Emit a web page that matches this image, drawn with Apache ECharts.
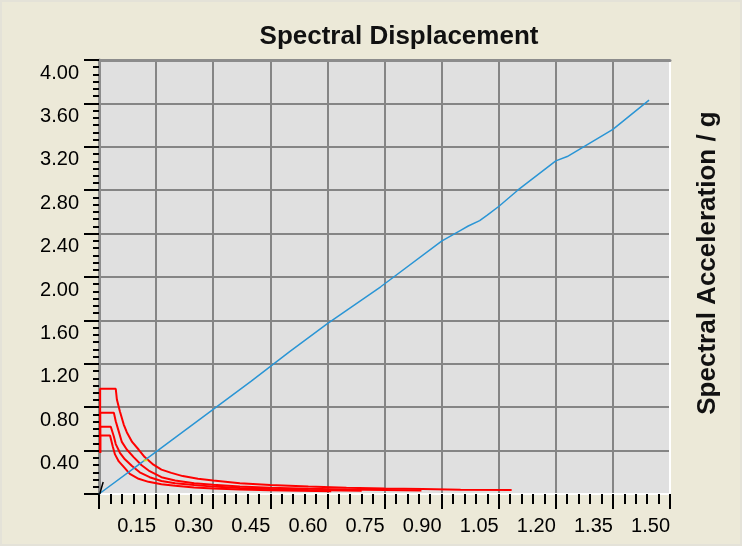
<!DOCTYPE html>
<html>
<head>
<meta charset="utf-8">
<script src="https://cdn.jsdelivr.net/npm/echarts@6/dist/echarts.min.js"></script>
<style>
  html, body { margin: 0; padding: 0; background: #ffffff; }
  #chart { width: 742px; height: 546px; background: #ECE9D8; box-sizing: border-box; border: 2px solid #E4E2D8; }
</style>
</head>
<body>
<div id="chart"></div>
<script>
// Axis ranges (spectral displacement, spectral acceleration / g)
const sdRange = [0, 1.5];
const sdStep = 0.15;
const saRange = [0, 4.0];
const saStep = 0.4;

// Demand spectra in ADRS form, one per damping level: [Sd, Sa]
const spectrum1 = [
  [0.003, 0.38], [0.003, 0.97], [0.044, 0.97], [0.047, 0.87], [0.055, 0.76],
  [0.065, 0.64], [0.073, 0.57], [0.087, 0.48], [0.104, 0.41], [0.12, 0.34],
  [0.143, 0.27], [0.164, 0.225], [0.19, 0.195], [0.22, 0.165], [0.26, 0.14],
  [0.30, 0.125], [0.37, 0.10], [0.45, 0.083], [0.55, 0.068], [0.65, 0.058],
  [0.75, 0.05], [0.85, 0.045], [0.95, 0.04], [1.084, 0.036]
];
const spectrum2 = [
  [0.003, 0.38], [0.003, 0.75], [0.039, 0.75], [0.044, 0.67], [0.052, 0.575],
  [0.06, 0.48], [0.073, 0.41], [0.091, 0.34], [0.112, 0.265], [0.133, 0.21],
  [0.164, 0.155], [0.2, 0.125], [0.25, 0.10], [0.3, 0.085], [0.37, 0.07],
  [0.45, 0.058], [0.55, 0.048], [0.65, 0.042], [0.75, 0.037], [0.847, 0.033]
];
const spectrum3 = [
  [0.003, 0.38], [0.003, 0.62], [0.031, 0.62], [0.039, 0.53], [0.044, 0.46],
  [0.055, 0.38], [0.068, 0.32], [0.086, 0.26], [0.107, 0.20], [0.133, 0.155],
  [0.164, 0.12], [0.2, 0.10], [0.25, 0.082], [0.3, 0.068], [0.37, 0.056],
  [0.45, 0.046], [0.55, 0.038], [0.69, 0.031]
];
const spectrum4 = [
  [0.003, 0.38], [0.003, 0.54], [0.029, 0.54], [0.036, 0.44], [0.042, 0.365],
  [0.052, 0.30], [0.065, 0.25], [0.081, 0.185], [0.104, 0.14], [0.13, 0.112],
  [0.164, 0.09], [0.2, 0.075], [0.25, 0.06], [0.3, 0.05], [0.37, 0.041],
  [0.45, 0.034], [0.53, 0.029], [0.61, 0.025]
];

// Capacity / period line
const lineSd = [0, 0.10, 0.20, 0.30, 0.40, 0.50, 0.60, 0.74, 0.90, 0.95, 0.97, 1.00, 1.02, 1.05, 1.10, 1.20, 1.23, 1.35, 1.445];
const lineSa = [0, 0.26, 0.52, 0.78, 1.04, 1.31, 1.57, 1.91, 2.33, 2.43, 2.47, 2.52, 2.57, 2.65, 2.80, 3.07, 3.11, 3.36, 3.63];

// Short initial branch near the origin and the performance point
const originBranch = [[0.002, 0.0], [0.006, 0.05], [0.011, 0.11]];
const perfPoint = [[0.122, 0.31]];

const labelFont = 'Liberation Sans, Arial, sans-serif';
const fmt = v => (v === 0 ? '' : v.toFixed(2));

const chart = echarts.init(document.getElementById('chart'), null, { renderer: 'canvas' });

const redLine = data => ({
  type: 'line', data, showSymbol: false, symbol: 'none', silent: true,
  lineStyle: { color: '#FF0000', width: 2 }, z: 3, animation: false
});

chart.setOption({
  animation: false,
  title: {
    text: 'Spectral Displacement',
    left: 392, top: 17, textAlign: 'center',
    textStyle: { fontFamily: labelFont, fontWeight: 'bold', fontSize: 26, color: '#111111' }
  },
  graphic: [{
    type: 'text',
    x: 706, y: 261,
    rotation: Math.PI / 2,
    style: {
      text: 'Spectral Acceleration / g',
      font: 'bold 26px ' + labelFont,
      fill: '#111111',
      align: 'center',
      verticalAlign: 'middle'
    }
  }],
  grid: {
    left: 97, right: 70, top: 58, bottom: 50,
    show: true, backgroundColor: '#E0E0E0', borderWidth: 0
  },
  xAxis: [{
    type: 'value', min: sdRange[0], max: sdRange[1], interval: sdStep,
    position: 'bottom',
    axisLine: { show: true, onZero: false, lineStyle: { color: '#FFFFFF', width: 2 } },
    axisTick: { show: true, length: 15, lineStyle: { color: '#000000', width: 2 } },
    minorTick: { show: true, splitNumber: 5, length: 10, lineStyle: { color: '#000000', width: 2 } },
    splitLine: { show: true, lineStyle: { color: '#858585', width: 2 } },
    axisLabel: {
      formatter: fmt, align: 'right', margin: 22,
      fontFamily: labelFont, fontSize: 20, color: '#000000'
    }
  }, {
    type: 'value', min: sdRange[0], max: sdRange[1], position: 'top',
    axisLine: { show: true, onZero: false, lineStyle: { color: '#8C8C8C', width: 3 } },
    axisTick: { show: false }, axisLabel: { show: false }, splitLine: { show: false }
  }],
  yAxis: [{
    type: 'value', min: saRange[0], max: saRange[1], interval: saStep,
    position: 'left',
    axisLine: { show: true, onZero: false, lineStyle: { color: '#8C8C8C', width: 3 } },
    axisTick: { show: true, length: 15, lineStyle: { color: '#000000', width: 2 } },
    minorTick: { show: true, splitNumber: 6, length: 6, lineStyle: { color: '#000000', width: 2 } },
    splitLine: { show: true, lineStyle: { color: '#858585', width: 2 } },
    axisLabel: {
      formatter: fmt, margin: 20, verticalAlign: 'top', padding: [3, 0, 0, 0],
      fontFamily: labelFont, fontSize: 20, color: '#000000'
    }
  }, {
    type: 'value', min: saRange[0], max: saRange[1], position: 'right',
    axisLine: { show: true, onZero: false, lineStyle: { color: '#FFFFFF', width: 2 } },
    axisTick: { show: false }, axisLabel: { show: false }, splitLine: { show: false }
  }],
  series: [
    redLine(spectrum1),
    redLine(spectrum2),
    redLine(spectrum3),
    redLine(spectrum4),
    {
      type: 'line', data: lineSd.map((sd, i) => [sd, lineSa[i]]),
      showSymbol: false, symbol: 'none', silent: true,
      lineStyle: { color: '#2A95D5', width: 1.5 }, z: 4
    },
    {
      type: 'line', data: originBranch, showSymbol: false, symbol: 'none', silent: true,
      lineStyle: { color: '#000000', width: 1.5 }, z: 5
    },
    {
      type: 'scatter', data: perfPoint, symbol: 'rect', symbolSize: [4, 2], silent: true,
      itemStyle: { color: '#E8E800' }, z: 6
    }
  ]
});
</script>
</body>
</html>
